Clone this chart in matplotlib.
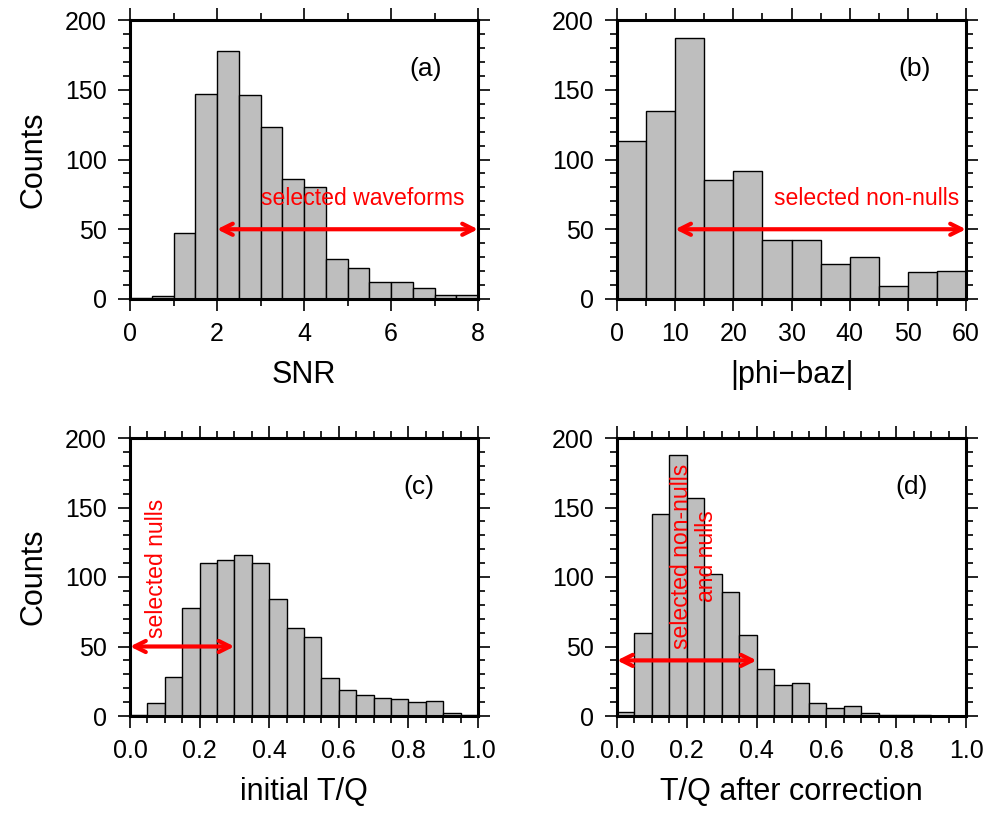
import numpy as np
import matplotlib.pyplot as plt
from matplotlib.ticker import MultipleLocator

plt.rcParams['font.family'] = ['Liberation Sans', 'DejaVu Sans']

# histogram counts
snr_edges = np.arange(0, 8.01, 0.5)
snr_counts = [1, 2, 47, 147, 178, 146, 123, 86, 80, 29, 22, 12, 12, 8, 3, 3]

phi_edges = np.arange(0, 60.1, 5)
phi_counts = [113, 135, 187, 85, 92, 42, 42, 25, 30, 9, 19, 20]

tq_edges = np.round(np.arange(0, 1.001, 0.05), 2)
tq_init_counts = [1, 9, 28, 78, 110, 112, 116, 110, 84, 63, 57, 27, 19, 15, 13, 12, 10, 11, 2, 1]
tq_corr_counts = [3, 60, 145, 188, 157, 102, 89, 58, 34, 22, 24, 9, 6, 7, 2, 1, 1, 1, 0, 0]

fig = plt.figure(figsize=(9.88, 8.15), dpi=100)
W, H = 988, 815


def make_ax(left, top, right, bottom):
    return fig.add_axes([left / W, 1 - bottom / H, (right - left) / W, (bottom - top) / H])


def style(ax, xmaj, xmin, xlim):
    ax.set_xlim(*xlim)
    ax.set_ylim(0, 200)
    ax.xaxis.set_major_locator(MultipleLocator(xmaj))
    ax.xaxis.set_minor_locator(MultipleLocator(xmin))
    ax.yaxis.set_major_locator(MultipleLocator(50))
    ax.yaxis.set_minor_locator(MultipleLocator(10))
    ax.tick_params(which='both', direction='out', top=True, right=True, width=1.2)
    ax.tick_params(which='major', length=8.5, labelsize=18, pad=8)
    ax.tick_params(which='minor', length=5)
    for s in ax.spines.values():
        s.set_linewidth(2.2)


def hist(ax, edges, counts):
    edges = np.asarray(edges)
    ax.bar(edges[:-1], counts, width=np.diff(edges), align='edge',
           color='#bebebe', edgecolor='black', linewidth=1.0, zorder=2)


def arrow(ax, x0, x1, y):
    ax.annotate('', xy=(x1, y), xytext=(x0, y),
                arrowprops=dict(arrowstyle='<->', color='red', lw=3,
                                mutation_scale=20, shrinkA=0, shrinkB=0),
                zorder=5, annotation_clip=False)


red = '#ff0000'
lab = 19

ax = make_ax(130, 20, 478, 299)
hist(ax, snr_edges, snr_counts)
style(ax, 2, 1, (0, 8))
arrow(ax, 2, 8, 50)
ax.text(5.35, 64, 'selected waveforms', color=red, fontsize=16.6, ha='center', va='bottom')
ax.text(6.79, 165, '(a)', fontsize=lab, ha='center', va='center')
ax.set_xlabel('SNR', fontsize=22, labelpad=10)
ax.set_ylabel('Counts', fontsize=22, labelpad=12)

ax = make_ax(617, 20, 966, 299)
hist(ax, phi_edges, phi_counts)
style(ax, 10, 5, (0, 60))
arrow(ax, 10, 60, 50)
ax.text(43.0, 64, 'selected non-nulls', color=red, fontsize=16.6, ha='center', va='bottom')
ax.text(51.2, 165, '(b)', fontsize=lab, ha='center', va='center')
ax.set_xlabel('|phi\u2212baz|', fontsize=22, labelpad=10)

ax = make_ax(130, 438, 478, 716)
hist(ax, tq_edges, tq_init_counts)
style(ax, 0.2, 0.05, (0, 1))
ax.xaxis.set_major_formatter(lambda v, p: f'{v:.1f}')
arrow(ax, 0, 0.3, 50)
ax.text(0.075, 106, 'selected nulls', color=red, fontsize=16.6, rotation=90,
        ha='center', va='center')
ax.text(0.83, 165, '(c)', fontsize=lab, ha='center', va='center')
ax.set_xlabel('initial T/Q', fontsize=22, labelpad=10)
ax.set_ylabel('Counts', fontsize=22, labelpad=12)

ax = make_ax(617, 438, 966, 716)
hist(ax, tq_edges, tq_corr_counts)
style(ax, 0.2, 0.05, (0, 1))
ax.xaxis.set_major_formatter(lambda v, p: f'{v:.1f}')
arrow(ax, 0, 0.4, 40)
ax.text(0.22, 115, 'selected non-nulls\nand nulls', color=red, fontsize=16.6, rotation=90,
        ha='center', va='center', linespacing=1.1, multialignment='center')
ax.text(0.845, 165, '(d)', fontsize=lab, ha='center', va='center')
ax.set_xlabel('T/Q after correction', fontsize=22, labelpad=10)

fig.savefig('out.png', dpi=100)
